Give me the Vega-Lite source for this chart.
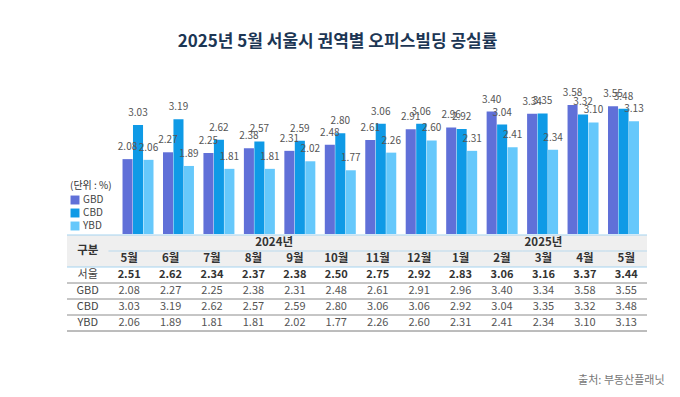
{
  "$schema": "https://vega.github.io/schema/vega-lite/v6.json",
  "padding": {"left": 66, "top": 33, "right": 0, "bottom": 0},
  "config": {"font": "Noto Sans CJK KR", "view": {"stroke": null}},
  "title": {"text": "2025년 5월 서울시 권역별 오피스빌딩 공실률", "fontSize": 17, "fontWeight": "bold", "color": "#1c3654", "offset": 37, "dx": -28, "anchor": "middle"},
  "resolve": {"legend": {"color": "independent"}},
  "datasets": {
    "rates": [
      {"key": "2024-05", "월": "5월", "서울": 2.51, "GBD": 2.08, "CBD": 3.03, "YBD": 2.06},
      {"key": "2024-06", "월": "6월", "서울": 2.62, "GBD": 2.27, "CBD": 3.19, "YBD": 1.89},
      {"key": "2024-07", "월": "7월", "서울": 2.34, "GBD": 2.25, "CBD": 2.62, "YBD": 1.81},
      {"key": "2024-08", "월": "8월", "서울": 2.37, "GBD": 2.38, "CBD": 2.57, "YBD": 1.81},
      {"key": "2024-09", "월": "9월", "서울": 2.38, "GBD": 2.31, "CBD": 2.59, "YBD": 2.02},
      {"key": "2024-10", "월": "10월", "서울": 2.50, "GBD": 2.48, "CBD": 2.80, "YBD": 1.77},
      {"key": "2024-11", "월": "11월", "서울": 2.75, "GBD": 2.61, "CBD": 3.06, "YBD": 2.26},
      {"key": "2024-12", "월": "12월", "서울": 2.92, "GBD": 2.91, "CBD": 3.06, "YBD": 2.60},
      {"key": "2025-01", "월": "1월", "서울": 2.83, "GBD": 2.96, "CBD": 2.92, "YBD": 2.31},
      {"key": "2025-02", "월": "2월", "서울": 3.06, "GBD": 3.40, "CBD": 3.04, "YBD": 2.41},
      {"key": "2025-03", "월": "3월", "서울": 3.16, "GBD": 3.34, "CBD": 3.35, "YBD": 2.34},
      {"key": "2025-04", "월": "4월", "서울": 3.37, "GBD": 3.58, "CBD": 3.32, "YBD": 3.10},
      {"key": "2025-05", "월": "5월", "서울": 3.44, "GBD": 3.55, "CBD": 3.48, "YBD": 3.13}
    ]
  },
  "spacing": 0,
  "vconcat": [
    {
      "width": 580,
      "height": 144,
      "data": {"name": "rates"},
      "transform": [{"fold": ["GBD", "CBD", "YBD"], "as": ["권역", "공실률"]}],
      "encoding": {
        "x": {"field": "key", "type": "nominal", "axis": null, "scale": {"paddingInner": 0.234, "paddingOuter": 0.785, "align": 0.874}},
        "xOffset": {"field": "권역", "type": "nominal", "sort": ["GBD", "CBD", "YBD"], "scale": {"paddingInner": 0.04}},
        "y": {"field": "공실률", "type": "quantitative", "axis": null, "scale": {"domain": [0, 4]}}
      },
      "layer": [
        {
          "mark": {"type": "bar"},
          "encoding": {
            "color": {
              "field": "권역", "type": "nominal",
              "scale": {"domain": ["GBD", "CBD", "YBD"], "range": ["#6070d8", "#0f9ae6", "#66c8fb"]},
              "legend": {"title": "(단위 : %)", "orient": "bottom-left", "offset": 3, "symbolType": "square", "symbolSize": 80, "symbolStrokeWidth": 0, "titleFontSize": 10, "titleFontWeight": "normal", "titleColor": "#333", "labelFontSize": 10, "labelColor": "#444", "rowPadding": 3, "titlePadding": 4, "labelOffset": 3}
            }
          }
        },
        {
          "mark": {"type": "text", "dy": -12, "fontSize": 10, "color": "#555"},
          "encoding": {"text": {"field": "공실률", "type": "quantitative", "format": ".2f"}}
        }
      ]
    },
    {
      "width": 580,
      "height": 96,
      "title": {"text": "출처: 부동산플래닛", "orient": "bottom", "anchor": "end", "fontSize": 11, "fontWeight": "normal", "color": "#777", "offset": 43, "dx": 17},
      "layer": [
        {
          "data": {"values": [{"row": "year"}, {"row": "월"}]},
          "mark": {"type": "rect", "color": "#efefef"},
          "encoding": {"y": {"field": "row", "type": "nominal", "axis": null, "scale": {"domain": ["year", "월", "서울", "GBD", "CBD", "YBD"], "paddingInner": 0, "paddingOuter": 0}}}
        },
        {
          "data": {"values": [{"row": "year"}, {"row": "서울"}]},
          "mark": {"type": "rule", "color": "#a6d3ef", "strokeWidth": 1.2},
          "encoding": {"y": {"field": "row", "type": "nominal", "bandPosition": 0, "axis": null}}
        },
        {
          "data": {"values": [{"row": "GBD"}, {"row": "CBD"}, {"row": "YBD"}]},
          "mark": {"type": "rule", "color": "#8c8c8c", "strokeWidth": 1},
          "encoding": {"y": {"field": "row", "type": "nominal", "bandPosition": 0, "axis": null}}
        },
        {
          "data": {"values": [{"row": "YBD"}]},
          "mark": {"type": "rule", "color": "#7a7a7a", "strokeWidth": 1},
          "encoding": {"y": {"field": "row", "type": "nominal", "bandPosition": 1, "axis": null}}
        },
        {
          "data": {"name": "rates"},
          "transform": [{"fold": ["월"], "as": ["row", "t"]}],
          "mark": {"type": "tick", "orient": "horizontal", "color": "#a6d3ef", "thickness": 1.2, "bandSize": 1},
          "encoding": {
            "x": {"field": "key", "type": "nominal", "axis": null, "scale": {"domain": ["label", "2024-05", "2024-06", "2024-07", "2024-08", "2024-09", "2024-10", "2024-11", "2024-12", "2025-01", "2025-02", "2025-03", "2025-04", "2025-05"], "paddingInner": 0, "paddingOuter": 0}},
            "y": {"field": "row", "type": "nominal", "bandPosition": 0, "axis": null}
          }
        },
        {
          "data": {"values": [{"col": "label", "row": "year", "t": "구분"}]},
          "mark": {"type": "text", "fontSize": 11.5, "fontWeight": "bold", "color": "#333"},
          "encoding": {
            "x": {"field": "col", "type": "nominal", "axis": null},
            "y": {"field": "row", "type": "nominal", "bandPosition": 1, "axis": null},
            "text": {"field": "t"}
          }
        },
        {
          "data": {"values": [{"col": "label", "row": "서울", "t": "서울"}, {"col": "label", "row": "GBD", "t": "GBD"}, {"col": "label", "row": "CBD", "t": "CBD"}, {"col": "label", "row": "YBD", "t": "YBD"}]},
          "mark": {"type": "text", "fontSize": 11, "color": "#444"},
          "encoding": {
            "x": {"field": "col", "type": "nominal", "axis": null},
            "y": {"field": "row", "type": "nominal", "axis": null},
            "text": {"field": "t"}
          }
        },
        {
          "data": {"values": [{"col": "2024-09", "row": "year", "t": "2024년"}]},
          "mark": {"type": "text", "fontSize": 11.5, "fontWeight": "bold", "color": "#333"},
          "encoding": {
            "x": {"field": "col", "type": "nominal", "bandPosition": 0, "axis": null},
            "y": {"field": "row", "type": "nominal", "axis": null},
            "text": {"field": "t"}
          }
        },
        {
          "data": {"values": [{"col": "2025-03", "row": "year", "t": "2025년"}]},
          "mark": {"type": "text", "fontSize": 11.5, "fontWeight": "bold", "color": "#333"},
          "encoding": {
            "x": {"field": "col", "type": "nominal", "axis": null},
            "y": {"field": "row", "type": "nominal", "axis": null},
            "text": {"field": "t"}
          }
        },
        {
          "data": {"name": "rates"},
          "transform": [{"fold": ["월"], "as": ["row", "t"]}],
          "mark": {"type": "text", "fontSize": 11.5, "fontWeight": "bold", "color": "#333"},
          "encoding": {
            "x": {"field": "key", "type": "nominal", "axis": null},
            "y": {"field": "row", "type": "nominal", "axis": null},
            "text": {"field": "t"}
          }
        },
        {
          "data": {"name": "rates"},
          "transform": [{"fold": ["서울"], "as": ["row", "v"]}],
          "mark": {"type": "text", "fontSize": 11, "fontWeight": "bold", "color": "#333"},
          "encoding": {
            "x": {"field": "key", "type": "nominal", "axis": null},
            "y": {"field": "row", "type": "nominal", "axis": null},
            "text": {"field": "v", "type": "quantitative", "format": ".2f"}
          }
        },
        {
          "data": {"name": "rates"},
          "transform": [{"fold": ["GBD", "CBD", "YBD"], "as": ["row", "v"]}],
          "mark": {"type": "text", "fontSize": 11, "color": "#555"},
          "encoding": {
            "x": {"field": "key", "type": "nominal", "axis": null},
            "y": {"field": "row", "type": "nominal", "axis": null},
            "text": {"field": "v", "type": "quantitative", "format": ".2f"}
          }
        }
      ]
    }
  ]
}
